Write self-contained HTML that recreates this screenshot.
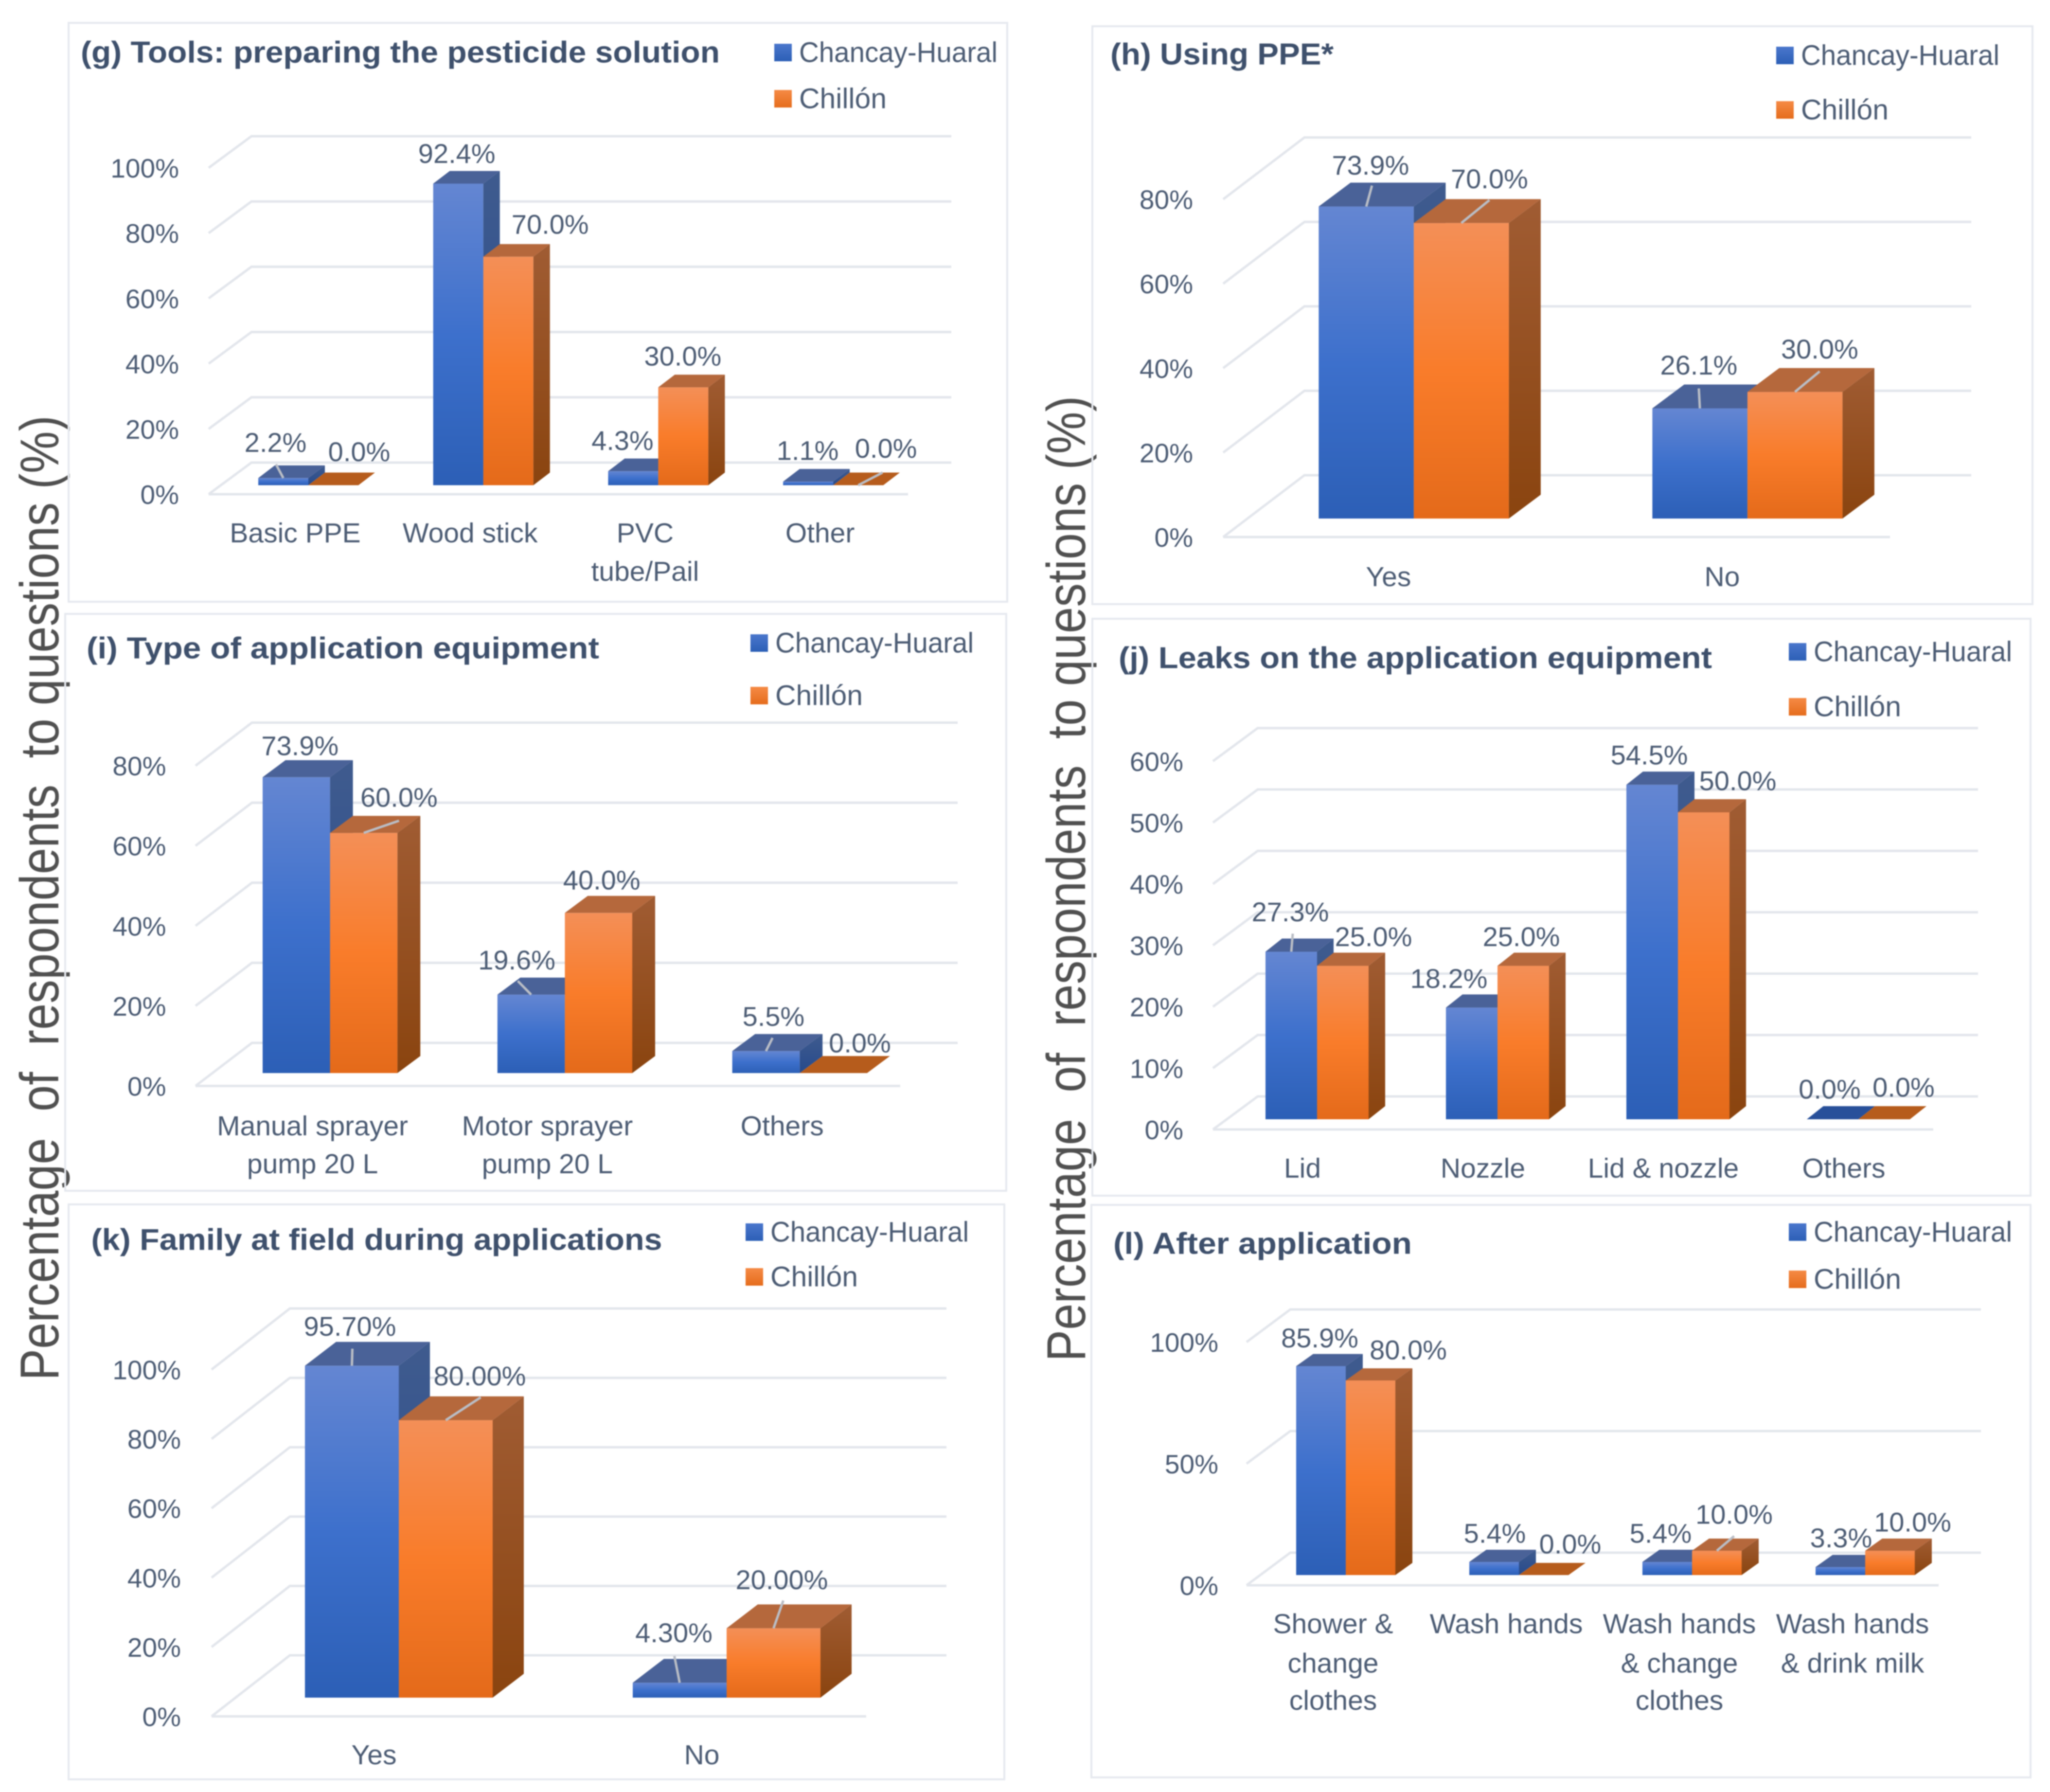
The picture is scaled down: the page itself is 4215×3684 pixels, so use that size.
<!DOCTYPE html>
<html>
<head>
<meta charset="utf-8">
<title>Survey responses on pesticide practices</title>
<style>
html,body{margin:0;padding:0;background:#fff}
svg{display:block;filter:blur(1.2px)}
text{font-family:"Liberation Sans",sans-serif}
</style>
</head>
<body>
<svg id="figure" xmlns="http://www.w3.org/2000/svg" width="4215" height="3684" viewBox="0 0 4215 3684">
<defs>
<linearGradient id="blueFront" x1="0" y1="0" x2="0" y2="1"><stop offset="0" stop-color="#6486d2"/><stop offset="0.5" stop-color="#3d70cc"/><stop offset="1" stop-color="#2c5fb6"/></linearGradient>
<linearGradient id="orangeFront" x1="0" y1="0" x2="0" y2="1"><stop offset="0" stop-color="#f48f57"/><stop offset="0.5" stop-color="#f97c2a"/><stop offset="1" stop-color="#e46a1a"/></linearGradient>
<linearGradient id="blueSide" x1="0" y1="0" x2="0" y2="1"><stop offset="0" stop-color="#3f5b8e"/><stop offset="1" stop-color="#274a8c"/></linearGradient>
<linearGradient id="orangeSide" x1="0" y1="0" x2="0" y2="1"><stop offset="0" stop-color="#a05c33"/><stop offset="1" stop-color="#8a440f"/></linearGradient>
<linearGradient id="blueSwatch" x1="0" y1="0" x2="0" y2="1"><stop offset="0" stop-color="#4a76cc"/><stop offset="1" stop-color="#2c5fb6"/></linearGradient>
<linearGradient id="orangeSwatch" x1="0" y1="0" x2="0" y2="1"><stop offset="0" stop-color="#f58a45"/><stop offset="1" stop-color="#e56c1c"/></linearGradient>
</defs>
<text transform="translate(120,2838) rotate(-90)" font-size="112" fill="#505050" textLength="1984" lengthAdjust="spacingAndGlyphs" xml:space="preserve" style="white-space:pre">Percentage  of  respondents  to questions (%)</text>
<text transform="translate(2231,2799) rotate(-90)" font-size="112" fill="#505050" textLength="1985" lengthAdjust="spacingAndGlyphs" xml:space="preserve" style="white-space:pre">Percentage  of  respondents  to questions (%)</text>
</svg>
<script>
// Chart (g)
const gCategories = ['Basic PPE', 'Wood stick', 'PVC|tube/Pail', 'Other'];
const gChancay = [2.2, 92.4, 4.3, 1.1];
const gChillon = [0.0, 70.0, 30.0, 0.0];
const gTicks = [0, 20, 40, 60, 80, 100];
// Chart (h)
const hCategories = ['Yes', 'No'];
const hChancay = [73.9, 26.1];
const hChillon = [70.0, 30.0];
const hTicks = [0, 20, 40, 60, 80];
// Chart (i)
const iCategories = ['Manual sprayer|pump 20 L', 'Motor sprayer|pump 20 L', 'Others'];
const iChancay = [73.9, 19.6, 5.5];
const iChillon = [60.0, 40.0, 0.0];
const iTicks = [0, 20, 40, 60, 80];
// Chart (j)
const jCategories = ['Lid', 'Nozzle', 'Lid & nozzle', 'Others'];
const jChancay = [27.3, 18.2, 54.5, 0.0];
const jChillon = [25.0, 25.0, 50.0, 0.0];
const jTicks = [0, 10, 20, 30, 40, 50, 60];
// Chart (k)
const kCategories = ['Yes', 'No'];
const kChancay = [95.7, 4.3];
const kChillon = [80.0, 20.0];
const kTicks = [0, 20, 40, 60, 80, 100];
// Chart (l)
const lCategories = ['Shower &|change|clothes', 'Wash hands', 'Wash hands|& change|clothes', 'Wash hands|& drink milk'];
const lChancay = [85.9, 5.4, 5.4, 3.3];
const lChillon = [80.0, 0.0, 10.0, 10.0];
const lTicks = [0, 50, 100];

const seriesNames = ['Chancay-Huaral', 'Chillón'];

const NS = 'http://www.w3.org/2000/svg';
const TEXT = '#4c5c74';
const figure = document.getElementById('figure');

function mk(tag, attrs, parent, content) {
  const node = document.createElementNS(NS, tag);
  for (const k in attrs) node.setAttribute(k, attrs[k]);
  if (content !== undefined) node.textContent = content;
  parent.appendChild(node);
  return node;
}
function pts(list) {
  return list.map(function (p) { return p[0] + ',' + p[1]; }).join(' ');
}

function drawChart(id, title, categories, chancay, chillon, ticks, L) {
  const g = mk('g', {}, figure);
  
  

  const frontY = function (v) { return L.y0 - v * L.unit; };
  const barY = function (v) { return L.base - v * L.unit; };
  const barX = function (i, s) { return L.barX + i * L.step + s * L.barW; };

  let el = mk('rect', { x: L.panel[0], y: L.panel[1], width: L.panel[2] - L.panel[0], height: L.panel[3] - L.panel[1], fill: 'none', stroke: '#e6e9ef', 'stroke-width': 4 }, g);
  
  

  el = mk('text', { x: L.titleX, y: L.titleY, 'font-size': 62, 'font-weight': 'bold', fill: '#3e506c', 'dominant-baseline': 'central', textLength: L.titleLen, lengthAdjust: 'spacingAndGlyphs' }, g, title);
  
  

  // Legend
  const legendWidth = function (s) { return s === 0 ? 408 : 180; };
  seriesNames.forEach(function (name, s) {
    const ly = L.legendY[s];
    const sw = mk('rect', { x: L.legendX, y: ly - 18, width: 36, height: 36, fill: s === 0 ? 'url(#blueSwatch)' : 'url(#orangeSwatch)' }, g);
    
    
    const lt = mk('text', { x: L.legendX + 51, y: ly, 'font-size': 58, fill: TEXT, 'dominant-baseline': 'central', textLength: legendWidth(s), lengthAdjust: 'spacingAndGlyphs' }, g, name);
    
    
  });

  // Gridlines and tick labels
  ticks.forEach(function (t) {
    const fy = frontY(t);
    const by = fy - L.wallDy;
    const line = mk('polyline', { points: pts([[L.x0, fy], [L.x0 + L.wallDx, by], [L.wallRight, by]]), fill: 'none', stroke: '#e3e6ec', 'stroke-width': 5 }, g);
    
    
    const lab = mk('text', { x: L.tickRight, y: fy + 1, 'font-size': 55, fill: TEXT, 'text-anchor': 'end', 'dominant-baseline': 'central' }, g, t + '%');
    
    
  });
  const axis = mk('line', { x1: L.x0, y1: L.y0, x2: L.frontRight, y2: L.y0, stroke: '#e3e6ec', 'stroke-width': 5 }, g);
  
  

  // Bars
  [chancay, chillon].forEach(function (values, s) {
    const isBlue = s === 0;
    values.forEach(function (v, i) {
      const x = barX(i, s);
      const top = barY(v);
      const bar = mk('g', {}, g);
      
      
      if (v > 0) {
        mk('rect', { x: x, y: top, width: L.barW, height: L.base - top, fill: isBlue ? 'url(#blueFront)' : 'url(#orangeFront)' }, bar);
        mk('polygon', { points: pts([[x + L.barW, top], [x + L.barW + L.dx, top - L.dy], [x + L.barW + L.dx, L.base - L.dy], [x + L.barW, L.base]]), fill: isBlue ? 'url(#blueSide)' : 'url(#orangeSide)' }, bar);
      }
      const topFill = v > 0 ? (isBlue ? '#4a6298' : '#b5683c') : (isBlue ? '#28509a' : '#b65c1c');
      mk('polygon', { points: pts([[x, top], [x + L.barW, top], [x + L.barW + L.dx, top - L.dy], [x + L.dx, top - L.dy]]), fill: topFill }, bar);
    });
  });

  // Data labels and leader lines
  [chancay, chillon].forEach(function (values, s) {
    values.forEach(function (v, i) {
      const ax = barX(i, s) + L.barW / 2 + L.dx / 2;
      const ay = barY(v) - L.dy;
      const nudge = L.labelNudge[s][i];
      const start = L.leaders[s + '-' + i];
      if (start) {
        const leader = mk('line', { x1: ax + start[0], y1: ay + start[1], x2: ax - L.dx / 2, y2: ay + L.dy, stroke: '#b9bdc5', 'stroke-width': 5 }, g);
        
        
      }
      const label = mk('text', { x: ax + nudge[0], y: ay + nudge[1], 'font-size': 56, fill: TEXT, 'text-anchor': 'middle', 'dominant-baseline': 'central' }, g, v.toFixed(L.decimals) + '%');
      
      
    });
  });

  // Category labels
  categories.forEach(function (c, i) {
    const cx = barX(i, 1) + L.catDx;
    c.split('|').forEach(function (part, n) {
      const cat = mk('text', { x: cx, y: L.catY[n] - 2, 'font-size': 57, fill: TEXT, 'text-anchor': 'middle', 'dominant-baseline': 'central' }, g, part);
      
      
    });
  });
}

drawChart('g', '(g) Tools: preparing the pesticide solution', gCategories, gChancay, gChillon, gTicks, {
  panel: [141, 47, 2071, 1237], titleX: 166, titleY: 108, titleLen: 1314,
  legendX: 1592, legendY: [108, 203],
  x0: 429, y0: 1016, wallDx: 88, wallDy: 65, wallRight: 1956, frontRight: 1867, unit: 6.71, tickRight: 368,
  barX: 531, step: 359.7, barW: 103, base: 997.5, dx: 34, dy: 26, decimals: 1,
  catDx: -27, catY: [1098, 1177],
  labelNudge: [[[-33, -47], [-20, -36], [-39, -37], [-18, -38]], [[36, -43], [69, -41], [-18, -38], [40, -50]]],
  leaders: { '0-0': [-32, -2], '1-3': [33, 0] }
});
drawChart('h', '(h) Using PPE*', hCategories, hChancay, hChillon, hTicks, {
  panel: [2246, 54, 4179, 1242], titleX: 2283, titleY: 112, titleLen: 459,
  legendX: 3652, legendY: [114, 226],
  x0: 2515, y0: 1104, wallDx: 167, wallDy: 127, wallRight: 4053, frontRight: 3886, unit: 8.68, tickRight: 2453,
  barX: 2711.4, step: 686, barW: 195.5, base: 1066, dx: 65.5, dy: 49, decimals: 1,
  catDx: -52, catY: [1188],
  labelNudge: [[[-24, -36], [-35, -40]], [[25, -42], [18, -39]]],
  leaders: { '0-0': [-21, 6], '1-0': [25, 2], '0-1': [-35, 8], '1-1': [18, 7] }
});
drawChart('i', '(i) Type of application equipment', iCategories, iChancay, iChillon, iTicks, {
  panel: [134, 1262, 2069, 2448], titleX: 178, titleY: 1333, titleLen: 1054,
  legendX: 1543, legendY: [1322, 1430],
  x0: 402, y0: 2232.5, wallDx: 116, wallDy: 88.5, wallRight: 1969, frontRight: 1851, unit: 8.23, tickRight: 341.5,
  barX: 540, step: 482.8, barW: 138.6, base: 2206, dx: 47, dy: 35, decimals: 1,
  catDx: -36, catY: [2317, 2395],
  labelNudge: [[[-16, -30], [-53, -36], [-8, -36]], [[49, -38], [-17, -33], [31, -27]]],
  leaders: { '1-0': [49, 10], '0-1': [-51, 7], '0-2': [-10, 8] }
});
drawChart('j', '(j) Leaks on the application equipment', jCategories, jChancay, jChillon, jTicks, {
  panel: [2246, 1272, 4175, 2458], titleX: 2300, titleY: 1353, titleLen: 1220,
  legendX: 3678, legendY: [1340, 1453],
  x0: 2494, y0: 2322, wallDx: 92, wallDy: 68, wallRight: 4067, frontRight: 3975, unit: 12.62, tickRight: 2433,
  barX: 2602, step: 371, barW: 106, base: 2301, dx: 34, dy: 27, decimals: 1,
  catDx: -30, catY: [2404],
  labelNudge: [[[-19, -55], [-64, -33], [-23, -34], [-23, -35]], [[46, -33], [-21, -33], [53, -38], [23, -39]]],
  leaders: { '0-0': [-14, -10] }
});
drawChart('k', '(k) Family at field during applications', kCategories, kChancay, kChillon, kTicks, {
  panel: [141, 2476, 2065, 3658], titleX: 187.5, titleY: 2549, titleLen: 1174,
  legendX: 1533, legendY: [2533, 2625],
  x0: 435, y0: 3528.5, wallDx: 161, wallDy: 125.5, wallRight: 1946, frontRight: 1781, unit: 7.13, tickRight: 372,
  barX: 627, step: 674, barW: 193, base: 3490, dx: 64, dy: 49, decimals: 2,
  catDx: -51, catY: [3610],
  labelNudge: [[[-36, -32], [-44, -54]], [[38, -42], [-15, -51]]],
  leaders: { '0-0': [-31, 14], '1-0': [40, 2], '0-1': [-43, -6], '1-1': [-12, -8] }
});
drawChart('l', '(l) After application', lCategories, lChancay, lChillon, lTicks, {
  panel: [2244, 2477, 4175, 3654], titleX: 2289, titleY: 2557, titleLen: 614,
  legendX: 3678, legendY: [2533, 2630],
  x0: 2563, y0: 3259, wallDx: 90, wallDy: 67, wallRight: 4073, frontRight: 3986, unit: 5.0, tickRight: 2505,
  barX: 2665, step: 356, barW: 102, base: 3238, dx: 35, dy: 25, decimals: 1,
  catDx: -26, catY: [3340.5, 3421.5, 3498],
  labelNudge: [[[-20, -33], [-16, -34], [-31, -34], [-16, -35]], [[60, -38], [37, -39], [18, -50], [29, -34]]],
  leaders: { '1-2': [18, -5] }
});
</script>
</body>
</html>
